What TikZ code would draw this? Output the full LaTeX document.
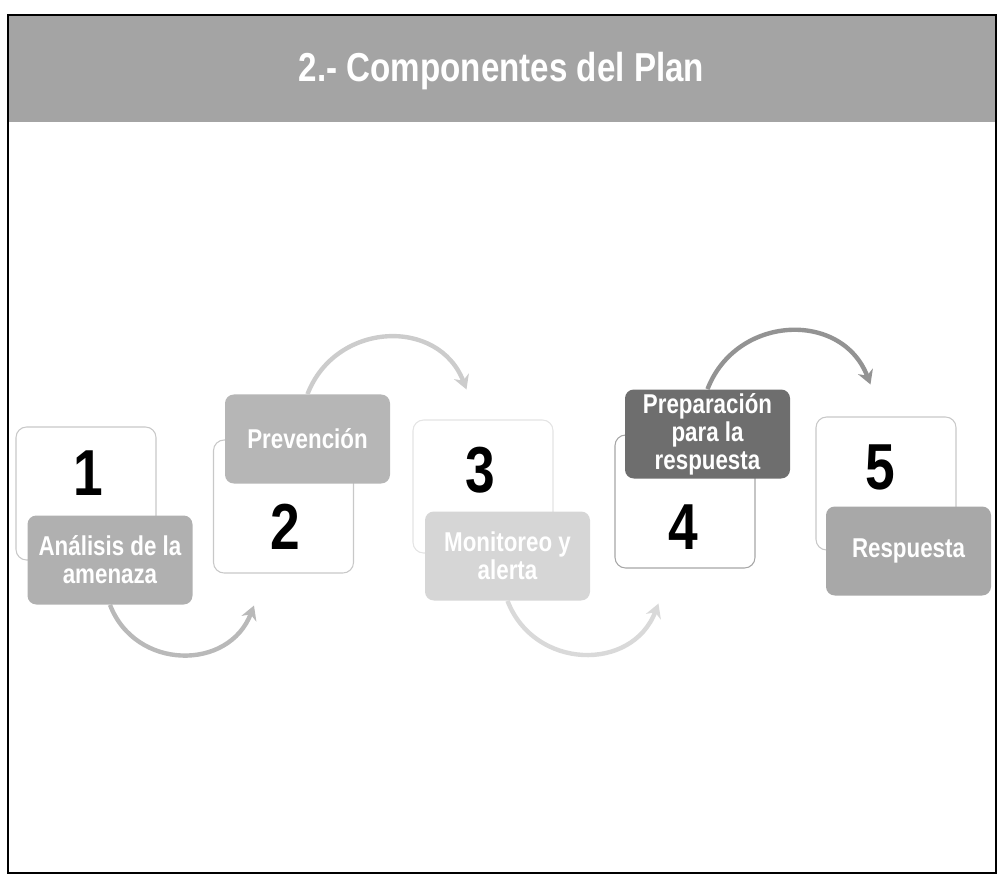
\documentclass[tikz,border=0pt]{standalone}
\usepackage{fontspec}
\usepackage{tikz}
\usetikzlibrary{arrows.meta}
\newfontfamily\narrowsf[FakeStretch=0.82]{Liberation Sans}
\definecolor{headgray}{HTML}{A4A4A4}
\definecolor{boxline}{HTML}{C8C8C8}
\definecolor{tagone}{HTML}{B0B0B0}
\definecolor{tagtwo}{HTML}{B6B6B6}
\definecolor{tagthree}{HTML}{D6D6D6}
\definecolor{tagfour}{HTML}{6E6E6E}
\definecolor{tagfive}{HTML}{A8A8A8}
\begin{document}
\begin{tikzpicture}[>={Stealth[length=8pt,width=9pt]},
              box node/.style={rectangle,rounded corners=6pt,draw=boxline,line width=0.6pt,fill=white,
                minimum width=2.8cm,minimum height=2.66cm},
              tag node/.style={rectangle,rounded corners=5pt,minimum width=3.3cm,minimum height=1.78cm,
                inner sep=2pt,text=white,align=center,font=\narrowsf\bfseries\fontsize{15.5}{16}\selectfont},
              num node/.style={inner sep=0pt,font=\narrowsf\bfseries\fontsize{37}{40}\selectfont},
              flow/.style={->,line width=2.5pt}]

            \useasboundingbox (0,0) rectangle (20.04,17.6);

            % frame and title band
            \fill[headgray] (0.16,15.16) rectangle (19.92,17.3);
            \draw[line width=1.2pt] (0.16,0.14) rectangle (19.92,17.3);
            \node[anchor=base,text=white,font=\narrowsf\bfseries\fontsize{23}{27}\selectfont]
              (title) at (10.03,15.96) {2.- Componentes del Plan};

            % white boxes
            \node[box node] (B1) at (1.72,7.73) {};
            \node[box node] (B2) at (5.67,7.47) {};
            \node[box node,draw=boxline!50] (B3) at (9.66,7.87) {};
            \node[box node,draw=gray!70] (B4) at (13.7,7.57) {};
            \node[box node] (B5) at (17.72,7.93) {};

            \node[num node] (N1) at (1.76,8.14) {1};
            \node[num node] (N2) at (5.70,7.06) {2};
            \node[num node] (N3) at (9.60,8.20) {3};
            \node[num node] (N4) at (13.66,7.06) {4};
            \node[num node] (N5) at (17.60,8.26) {5};

            % coloured tags
            \node[tag node,fill=tagone] (L1) at (2.2,6.4) {Análisis de la\\amenaza};
            \node[tag node,fill=tagtwo] (L2) at (6.15,8.82) {Prevención};
            \node[tag node,fill=tagthree] (L3) at (10.15,6.48) {Monitoreo y\\alerta};
            \node[tag node,fill=tagfour] (L4) at (14.15,8.92) {Preparación\\para la\\respuesta};
            \node[tag node,fill=tagfive] (L5) at (18.17,6.58) {Respuesta};

            \path[looseness=1.25]
            (L1.south) edge[flow,draw=gray!55,out=-69,in=-111] ([shift={(0.82,-0.64)}]B2.south west)
            (L2.north) edge[flow,draw=gray!40,out=69,in=111] ([shift={(1.08,0.6)}]B3.north west)
            (L3.south) edge[flow,draw=gray!30,out=-69,in=-111] ([shift={(0.88,-0.7)}]B4.south west)
            (L4.north) edge[flow,draw=gray!85,out=69,in=111] ([shift={(1.1,0.64)}]B5.north west);

          \end{tikzpicture}
\end{document}
